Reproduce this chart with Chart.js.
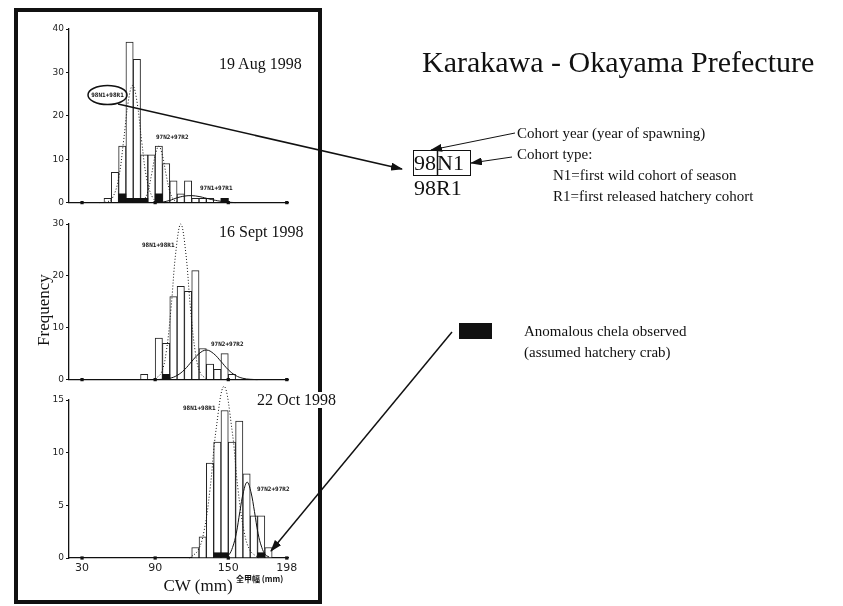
<!DOCTYPE html>
<html>
<head>
<meta charset="utf-8">
<script src="https://cdn.jsdelivr.net/npm/chart.js@4.4.1/dist/chart.umd.min.js"></script>
<style>
  body { margin: 0; background: #fff; }
  #page { position: relative; width: 843px; height: 606px; overflow: hidden; font-family: "Liberation Serif", serif; color: #111; }
  #frame { position: absolute; left: 14px; top: 8px; width: 308px; height: 596px; border: 4px solid #111; box-sizing: border-box; }
  canvas { position: absolute; left: 20px; }
  .txt { position: absolute; white-space: nowrap; line-height: 1; transform: translateY(-50%); }
  .tag { position: absolute; white-space: nowrap; line-height: 1; transform: translateY(-50%); font-family: "DejaVu Sans Mono", monospace; font-size: 6px; font-weight: bold; }
  svg { position: absolute; left: 0; top: 0; }
</style>
</head>
<body>
<div id="page">
  <div id="frame"></div>
  <canvas id="aug" width="290" height="195" style="top:15px"></canvas>
  <canvas id="sep" width="290" height="177" style="top:210px"></canvas>
  <canvas id="oct" width="290" height="216" style="top:386px"></canvas>

  <svg width="843" height="606">
    <defs>
      <marker id="ah" markerWidth="12" markerHeight="8" refX="11" refY="4" orient="auto" markerUnits="userSpaceOnUse">
        <path d="M0,0 L12,4 L0,8 z" fill="#111"/>
      </marker>
    </defs>
    <ellipse cx="107.5" cy="95" rx="19.5" ry="9.5" fill="none" stroke="#111" stroke-width="1.5"/>
    <line x1="118" y1="104" x2="402" y2="169" stroke="#111" stroke-width="1.5" marker-end="url(#ah)"/>
    <line x1="515" y1="133" x2="431" y2="150" stroke="#111" stroke-width="1" marker-end="url(#ah)"/>
    <line x1="512" y1="157" x2="471" y2="163" stroke="#111" stroke-width="1" marker-end="url(#ah)"/>
    <rect x="413.5" y="150.5" width="57" height="25" fill="none" stroke="#111" stroke-width="1"/>
    <line x1="437.5" y1="150" x2="437.5" y2="176" stroke="#111" stroke-width="1.5"/>
    <rect x="459" y="323" width="33" height="16" fill="#111"/>
    <line x1="452" y1="332" x2="271" y2="551" stroke="#111" stroke-width="1.5" marker-end="url(#ah)"/>
  </svg>

  <div class="txt" style="left:422px;top:62px;font-size:30px">Karakawa - Okayama Prefecture</div>
  <div class="txt" style="left:219px;top:64px;font-size:16px">19 Aug 1998</div>
  <div class="txt" style="left:219px;top:232px;font-size:16px">16 Sept 1998</div>
  <div class="txt" style="left:257px;top:400px;font-size:16px;background:#fff">22 Oct 1998</div>

  <div class="txt" style="left:517px;top:133px;font-size:15px">Cohort year (year of spawning)</div>
  <div class="txt" style="left:517px;top:154px;font-size:15px">Cohort type:</div>
  <div class="txt" style="left:553px;top:175px;font-size:15px">N1=first wild cohort of season</div>
  <div class="txt" style="left:553px;top:196px;font-size:15px">R1=first released hatchery cohort</div>
  <div class="txt" style="left:414px;top:163px;font-size:22px">98<span style="margin-left:1px">N1</span></div>
  <div class="txt" style="left:414px;top:188px;font-size:22px">98R1</div>
  <div class="txt" style="left:524px;top:331px;font-size:15px">Anomalous chela observed</div>
  <div class="txt" style="left:524px;top:352px;font-size:15px">(assumed hatchery crab)</div>

  <div class="txt" style="left:43px;top:310px;font-size:17px;transform:translate(-50%,-50%) rotate(-90deg)">Frequency</div>
  <div class="txt" style="left:198px;top:585px;font-size:17px;transform:translate(-50%,-50%)">CW (mm)</div>
  <div class="txt" style="left:236px;top:579px;font-size:8px;font-family:'Noto Sans CJK JP',sans-serif;font-weight:bold">全甲幅 (mm)</div>

  <div class="tag" style="left:107.5px;top:95px;transform:translate(-50%,-50%)">98N1+98R1</div>
  <div class="tag" style="left:156px;top:137px">97N2+97R2</div>
  <div class="tag" style="left:200px;top:188px">97N1+97R1</div>
  <div class="tag" style="left:142px;top:245px">98N1+98R1</div>
  <div class="tag" style="left:211px;top:344px">97N2+97R2</div>
  <div class="tag" style="left:183px;top:408px">98N1+98R1</div>
  <div class="tag" style="left:257px;top:489px">97N2+97R2</div>
</div>

<script>
// 6 mm carapace width classes, 30 to 198 mm
const BIN_WIDTH = 6;
const binStarts = [30, 36, 42, 48, 54, 60, 66, 72, 78, 84, 90, 96, 102, 108, 114, 120, 126, 132, 138, 144, 150, 156, 162, 168, 174, 180, 186, 192];
const xTickValues = [30, 90, 150, 198];

const aug98Counts = [0, 0, 0, 1, 7, 13, 37, 33, 11, 11, 13, 9, 5, 2, 5, 1, 1, 1, 0, 1, 0, 0, 0, 0, 0, 0, 0, 0];
const aug98Chela  = [0, 0, 0, 0, 0, 2, 1, 1, 1, 0, 2, 0, 0, 0, 0, 0, 0, 0, 0, 1, 0, 0, 0, 0, 0, 0, 0, 0];
const sep98Counts = [0, 0, 0, 0, 0, 0, 0, 0, 1, 0, 8, 7, 16, 18, 17, 21, 6, 3, 2, 5, 1, 0, 0, 0, 0, 0, 0, 0];
const sep98Chela  = [0, 0, 0, 0, 0, 0, 0, 0, 0, 0, 0, 1, 0, 0, 0, 0, 0, 0, 0, 0, 0, 0, 0, 0, 0, 0, 0, 0];
const oct98Counts = [0, 0, 0, 0, 0, 0, 0, 0, 0, 0, 0, 0, 0, 0, 0, 1, 2, 9, 11, 14, 11, 13, 8, 4, 4, 1, 0, 0];
const oct98Chela  = [0, 0, 0, 0, 0, 0, 0, 0, 0, 0, 0, 0, 0, 0, 0, 0, 0, 0, 0.5, 0.5, 0, 0, 0, 0, 0.5, 0, 0, 0];

// fitted cohort curves
const aug98N1x = [44, 50, 55, 60, 64, 68, 71.5, 75, 79, 83, 88, 93, 98];
const aug98N1y = [0, 0.1, 1.1, 5.6, 14, 23.4, 27, 23.4, 14, 5.6, 1.1, 0.1, 0];
const aug97N2x = [78, 81, 84, 87, 90, 93, 96, 99, 102, 105, 108];
const aug97N2y = [0.1, 0.7, 2.6, 6.4, 10.8, 13, 10.8, 6.4, 2.6, 0.7, 0.1];
const aug97N1x = [96, 102, 108, 114, 120, 126, 132, 138, 144, 150, 156];
const aug97N1y = [0.1, 0.5, 1.1, 1.5, 1.6, 1.4, 1.0, 0.6, 0.3, 0.1, 0];

const sep98N1x = [90, 95, 99, 103, 107, 111, 115, 119, 123, 127, 132];
const sep98N1y = [0.1, 1.3, 5.2, 13.7, 24.7, 30, 24.7, 13.7, 5.2, 1.3, 0.1];
const sep97N2x = [90, 96, 102, 108, 114, 120, 126, 132, 138, 144, 150, 156, 162, 168, 174];
const sep97N2y = [0, 0.06, 0.25, 0.8, 1.9, 3.5, 5.0, 5.7, 5.0, 3.5, 1.9, 0.8, 0.25, 0.06, 0];

const oct98N1x = [118, 125, 130, 135, 140, 146.5, 153, 158, 163, 168, 175];
const oct98N1y = [0, 0.7, 2.5, 6.5, 12.2, 16.3, 12.2, 6.5, 2.5, 0.7, 0];
const oct97N2x = [147.5, 150.5, 153.5, 156.5, 159.5, 162.5, 165.5, 168.5, 171.5, 174.5, 177.5, 180.5, 183.5];
const oct97N2y = [0.1, 0.3, 1.0, 2.3, 4.4, 6.3, 7.2, 6.3, 4.4, 2.3, 1.0, 0.3, 0.1];

const ink = '#111';

function pairs(xs, ys) {
  return xs.map((x, i) => ({ x: x, y: ys[i] }));
}

function drawPanel(id, counts, chela, curves, yMax, yStep, showX, xHeight) {
  const datasets = [];

  curves.forEach(c => {
    datasets.push({
      type: 'line',
      data: pairs(c.x, c.y),
      borderColor: ink,
      borderWidth: 1,
      borderDash: c.dotted ? [1, 2] : [],
      pointRadius: 0,
      tension: 0.4,
      clip: false,
      order: 0
    });
  });

  // square markers sitting on the baseline at the labelled widths
  datasets.push({
    type: 'scatter',
    data: xTickValues.map(v => ({ x: v, y: 0 })),
    pointStyle: 'rect',
    pointRadius: 2.3,
    backgroundColor: ink,
    borderWidth: 0,
    clip: false,
    order: -1
  });

  datasets.push({
    type: 'bar',
    data: binStarts.map((b, i) => ({ x: b + BIN_WIDTH / 2, y: chela[i] })),
    backgroundColor: ink,
    borderWidth: 0,
    barPercentage: 1,
    categoryPercentage: 1,
    grouped: false,
    order: 1
  });

  datasets.push({
    type: 'bar',
    data: binStarts.map((b, i) => ({ x: b + BIN_WIDTH / 2, y: counts[i] })),
    backgroundColor: '#fff',
    borderColor: '#222',
    borderWidth: 1,
    barPercentage: 1,
    categoryPercentage: 1,
    grouped: false,
    order: 2
  });

  new Chart(document.getElementById(id), {
    type: 'bar',
    data: { datasets: datasets },
    options: {
      responsive: false,
      animation: false,
      layout: { padding: { top: 14, right: 22, left: 0, bottom: 0 } },
      plugins: { legend: { display: false }, tooltip: { enabled: false } },
      scales: {
        x: {
          type: 'linear',
          min: 19.3,
          max: 199,
          offset: false,
          grid: { display: false, drawTicks: false },
          border: { display: true, color: ink, width: 1.3 },
          ticks: {
            display: showX,
            autoSkip: false,
            maxRotation: 0,
            padding: 4,
            color: '#222',
            font: { family: 'DejaVu Sans', size: 11 }
          },
          afterBuildTicks: s => { s.ticks = xTickValues.map(v => ({ value: v })); },
          afterFit: s => { s.height = xHeight; }
        },
        y: {
          min: 0,
          max: yMax,
          ticks: {
            stepSize: yStep,
            padding: 2,
            color: '#222',
            font: { family: 'DejaVu Sans', size: 9 }
          },
          grid: { drawOnChartArea: false, drawTicks: true, tickLength: 3, color: ink },
          border: { display: true, color: ink, width: 1.3 },
          afterFit: s => { s.width = 49; }
        }
      }
    }
  });
}

drawPanel('aug', aug98Counts, aug98Chela, [
  { x: aug98N1x, y: aug98N1y, dotted: true },
  { x: aug97N2x, y: aug97N2y, dotted: true },
  { x: aug97N1x, y: aug97N1y, dotted: false }
], 40, 10, false, 5);

drawPanel('sep', sep98Counts, sep98Chela, [
  { x: sep98N1x, y: sep98N1y, dotted: true },
  { x: sep97N2x, y: sep97N2y, dotted: false }
], 30, 10, false, 5);

drawPanel('oct', oct98Counts, oct98Chela, [
  { x: oct98N1x, y: oct98N1y, dotted: true },
  { x: oct97N2x, y: oct97N2y, dotted: false }
], 15, 5, true, 44);
</script>
</body>
</html>
